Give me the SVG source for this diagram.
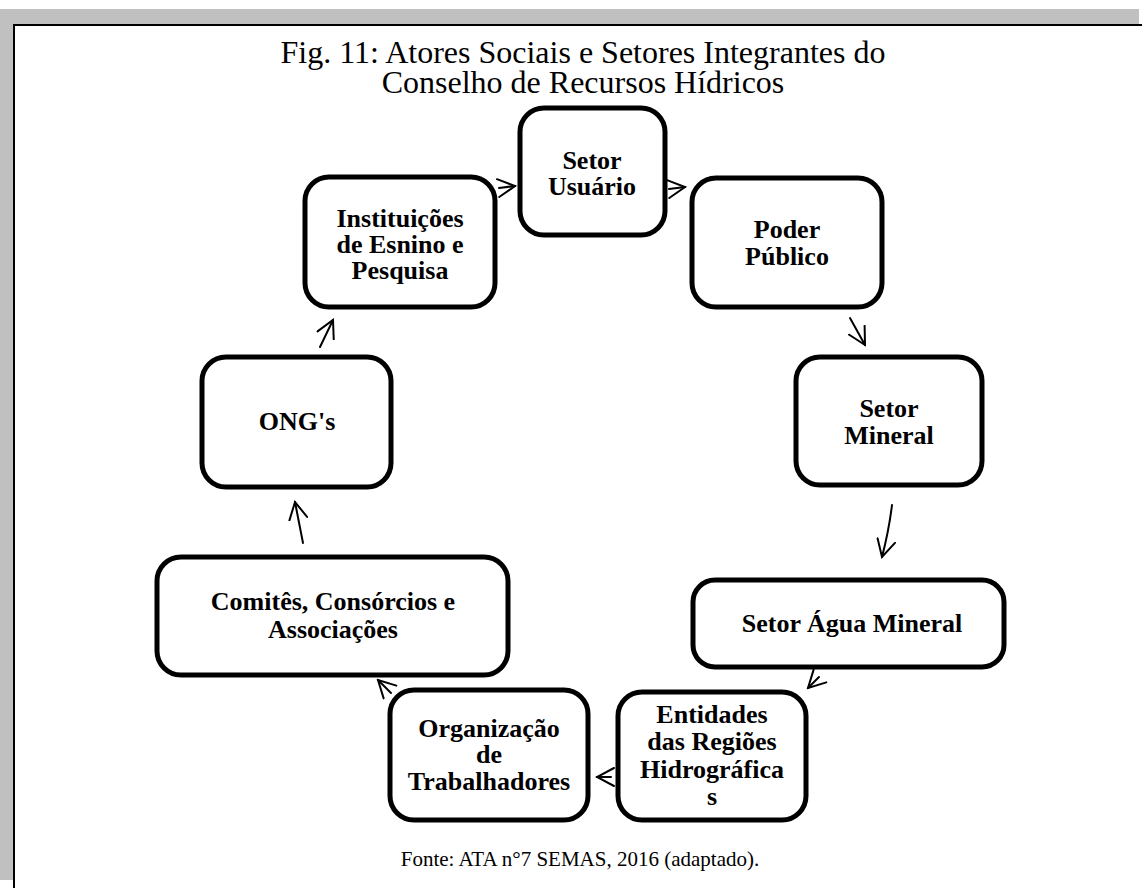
<svg xmlns="http://www.w3.org/2000/svg" width="1142" height="888" viewBox="0 0 1142 888">
  <style>
    .box { fill: #ffffff; stroke: #000000; stroke-width: 5; }
    .lbl { font-family: "Liberation Serif", "Times New Roman", serif; font-weight: bold; font-size: 26px; fill: #000000; text-anchor: middle; }
    .title { font-family: "Liberation Serif", "Times New Roman", serif; font-size: 32px; fill: #000000; text-anchor: middle; }
    .note { font-family: "Liberation Serif", "Times New Roman", serif; font-size: 21px; fill: #000000; text-anchor: middle; }
    .link { fill: none; stroke: #000000; stroke-width: 2; stroke-linecap: round; marker-end: url(#head); }
  </style>
  <defs>
    <marker id="head" viewBox="0 0 20 20" refX="18" refY="10" markerWidth="20" markerHeight="20" markerUnits="userSpaceOnUse" orient="auto">
      <path d="M1,1 L18,10 L1,19" fill="none" stroke="#000000" stroke-width="2" stroke-linecap="round" stroke-linejoin="miter"/>
    </marker>
  </defs>

  <!-- page background and frame -->
  <rect x="0" y="0" width="1142" height="888" fill="#ffffff"/>
  <rect x="0" y="9" width="1139" height="16" fill="#c0c0c0"/>
  <rect x="0" y="9" width="13" height="871" fill="#c0c0c0"/>
  <line x1="13" y1="25" x2="1142" y2="25" stroke="#000000" stroke-width="2"/>
  <line x1="14" y1="24" x2="14" y2="888" stroke="#000000" stroke-width="2"/>

  <!-- heading -->
  <g id="heading">
    <text class="title" x="583" y="63">Fig. 11: Atores Sociais e Setores Integrantes do</text>
    <text class="title" x="583" y="93">Conselho de Recursos Hídricos</text>
  </g>

  <!-- connectors -->
  <g id="connectors">
    <path class="link" d="M499,188 L515,186"/>
    <path class="link" d="M669,189 L685,187"/>
    <path class="link" d="M850,318 L865,345"/>
    <path class="link" d="M892,505 Q889,530 882,557"/>
    <path class="link" d="M819,677 L808,688"/>
    <path class="link" d="M611,777 L597,777"/>
    <path class="link" d="M391,693 L378,680"/>
    <path class="link" d="M303,543 L295,502"/>
    <path class="link" d="M320,347 L333,320"/>
  </g>

  <!-- nodes -->
  <g id="setor-usuario">
    <rect class="box" x="520" y="108" width="145" height="127" rx="24"/>
    <text class="lbl" x="592" y="169">Setor</text>
    <text class="lbl" x="592" y="195">Usuário</text>
  </g>
  <g id="poder-publico">
    <rect class="box" x="692" y="178" width="190" height="129" rx="24"/>
    <text class="lbl" x="787" y="238">Poder</text>
    <text class="lbl" x="787" y="265">Público</text>
  </g>
  <g id="setor-mineral">
    <rect class="box" x="796" y="357" width="186" height="128" rx="24"/>
    <text class="lbl" x="889" y="417">Setor</text>
    <text class="lbl" x="889" y="444">Mineral</text>
  </g>
  <g id="setor-agua-mineral">
    <rect class="box" x="693" y="580" width="311" height="87" rx="22"/>
    <text class="lbl" x="852" y="632">Setor Água Mineral</text>
  </g>
  <g id="entidades">
    <rect class="box" x="618" y="692" width="188" height="128" rx="24"/>
    <text class="lbl" x="712" y="723">Entidades</text>
    <text class="lbl" x="712" y="750">das Regiões</text>
    <text class="lbl" x="712" y="778">Hidrográfica</text>
    <text class="lbl" x="712" y="805">s</text>
  </g>
  <g id="organizacao">
    <rect class="box" x="390" y="690" width="198" height="130" rx="24"/>
    <text class="lbl" x="489" y="737">Organização</text>
    <text class="lbl" x="489" y="763">de</text>
    <text class="lbl" x="489" y="790">Trabalhadores</text>
  </g>
  <g id="comites">
    <rect class="box" x="157" y="557" width="351" height="118" rx="24"/>
    <text class="lbl" x="333" y="610">Comitês, Consórcios e</text>
    <text class="lbl" x="333" y="638">Associações</text>
  </g>
  <g id="ongs">
    <rect class="box" x="202" y="357" width="189" height="130" rx="24"/>
    <text class="lbl" x="297" y="430">ONG's</text>
  </g>
  <g id="instituicoes">
    <rect class="box" x="305" y="177" width="190" height="130" rx="24"/>
    <text class="lbl" x="400" y="227">Instituições</text>
    <text class="lbl" x="400" y="253">de Esnino e</text>
    <text class="lbl" x="400" y="279">Pesquisa</text>
  </g>

  <!-- source line -->
  <text class="note" x="580" y="866">Fonte: ATA n°7 SEMAS, 2016 (adaptado).</text>
</svg>
